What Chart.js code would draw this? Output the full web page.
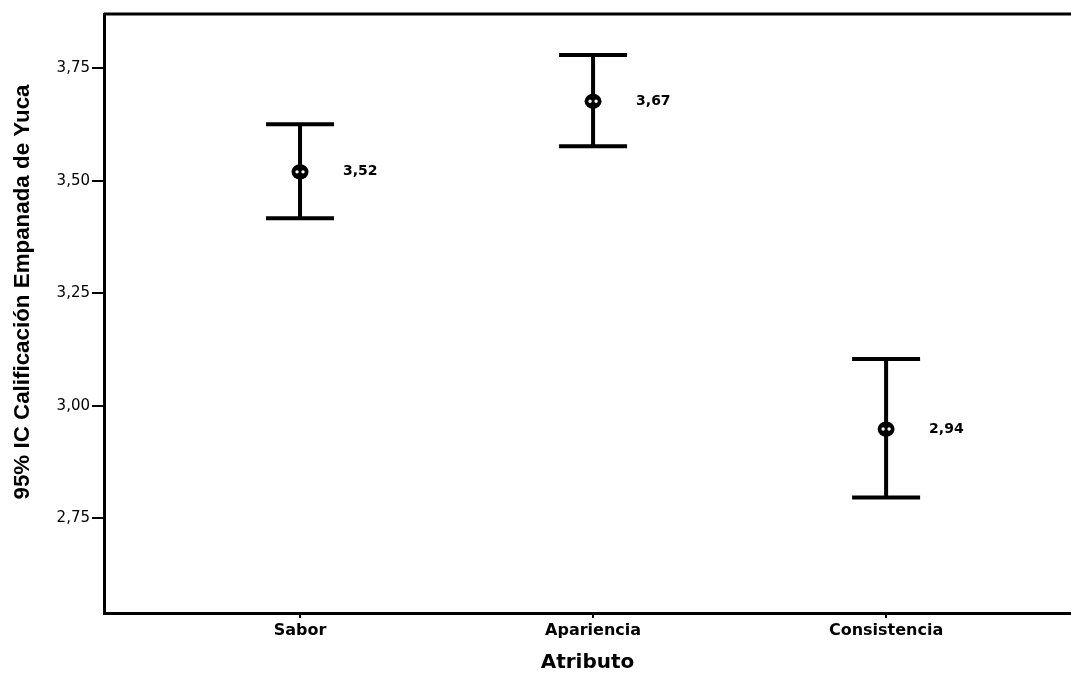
<!DOCTYPE html>
<html>
<head>
<meta charset="utf-8">
<script src="https://cdn.jsdelivr.net/npm/chart.js@4"></script>
<style>
  html, body { margin: 0; padding: 0; background: #fff; }
  #caja { width: 1071px; height: 675px; }
</style>
</head>
<body>
<div id="caja"><canvas id="grafico"></canvas></div>
<script>
// datos
const atributos = ['Sabor', 'Apariencia', 'Consistencia']
const medias = [3.52, 3.677, 2.948]
const limiteInferior = [3.417, 3.577, 2.796]
const limiteSuperior = [3.626, 3.780, 3.104]
const etiquetasMedia = ['3,52', '3,67', '2,94']
const ticksY = [2.75, 3.00, 3.25, 3.50, 3.75]

const coma = v => v.toFixed(2).replace('.', ',')

// barras de error, etiquetas y marco
const pluginBarras = {
  id: 'barras',
  afterDatasetsDraw(chart) {
    const ctx = chart.ctx
    const sx = chart.scales.x
    const sy = chart.scales.y
    const area = chart.chartArea
    ctx.save()
    ctx.strokeStyle = '#000'
    ctx.fillStyle = '#000'

    // línea superior del marco
    ctx.lineWidth = 3
    ctx.beginPath()
    ctx.moveTo(area.left, area.top)
    ctx.lineTo(area.right, area.top)
    ctx.stroke()

    atributos.forEach((a, i) => {
      const x = sx.getPixelForValue(i + 1)
      const yMin = sy.getPixelForValue(limiteInferior[i])
      const yMax = sy.getPixelForValue(limiteSuperior[i])
      const yMed = sy.getPixelForValue(medias[i])
      ctx.lineWidth = 4
      ctx.beginPath()
      ctx.moveTo(x, yMin)
      ctx.lineTo(x, yMax)
      ctx.moveTo(x - 34, yMax)
      ctx.lineTo(x + 34, yMax)
      ctx.moveTo(x - 34, yMin)
      ctx.lineTo(x + 34, yMin)
      ctx.stroke()

      // marcador de la media
      ctx.beginPath()
      ctx.ellipse(x, yMed, 8.5, 7.5, 0, 0, Math.PI * 2)
      ctx.fill()
      ctx.fillStyle = '#fff'
      ctx.beginPath()
      ctx.arc(x - 3, yMed, 1.7, 0, Math.PI * 2)
      ctx.arc(x + 3, yMed, 1.7, 0, Math.PI * 2)
      ctx.fill()
      ctx.fillStyle = '#000'

      ctx.font = 'bold 14px "DejaVu Sans"'
      ctx.textAlign = 'left'
      ctx.textBaseline = 'middle'
      ctx.fillText(etiquetasMedia[i], x + 43, yMed)
    })

    // título del eje Y (condensado)
    const titulo = '95% IC Calificación Empanada de Yuca'
    ctx.translate(23, 292)
    ctx.rotate(-Math.PI / 2)
    ctx.font = 'bold 22px "Liberation Sans"'
    ctx.textAlign = 'center'
    ctx.textBaseline = 'middle'
    const ancho = ctx.measureText(titulo).width
    ctx.scale(415 / ancho, 1)
    ctx.fillText(titulo, 0, 0)
    ctx.restore()
  }
}

new Chart(document.getElementById('grafico'), {
  type: 'scatter',
  data: {
    datasets: [{
      data: medias.map((m, i) => ({ x: i + 1, y: m })),
      pointRadius: 0
    }]
  },
  options: {
    responsive: true,
    maintainAspectRatio: false,
    animation: false,
    layout: { padding: { top: 14, right: 0, left: 0, bottom: 0 } },
    plugins: { legend: { display: false }, tooltip: { enabled: false } },
    scales: {
      x: {
        type: 'linear',
        min: 0.331,
        max: 3.631,
        afterBuildTicks: s => { s.ticks = [1, 2, 3].map(v => ({ value: v })) },
        afterFit: s => { s.height = 62 },
        ticks: {
          color: '#000',
          font: { family: 'DejaVu Sans', size: 16, weight: 'bold' },
          padding: 3,
          maxRotation: 0,
          callback: v => atributos[v - 1]
        },
        grid: { display: true, drawOnChartArea: false, drawTicks: true, tickLength: 5, color: '#000', lineWidth: 2 },
        border: { display: true, color: '#000', width: 3 },
        title: {
          display: true,
          text: 'Atributo',
          color: '#000',
          font: { family: 'DejaVu Sans', size: 20, weight: 'bold' },
          padding: { top: 2, bottom: 0 }
        }
      },
      y: {
        min: 2.539,
        max: 3.871,
        afterBuildTicks: s => { s.ticks = ticksY.map(v => ({ value: v })) },
        afterFit: s => { s.width = 104 },
        ticks: {
          color: '#000',
          font: { family: 'DejaVu Sans', size: 15 },
          padding: 2,
          callback: v => coma(v)
        },
        grid: { display: true, drawOnChartArea: false, drawTicks: true, tickLength: 12, color: '#000', lineWidth: 2 },
        border: { display: true, color: '#000', width: 3 }
      }
    }
  },
  plugins: [pluginBarras]
})
</script>
</body>
</html>
